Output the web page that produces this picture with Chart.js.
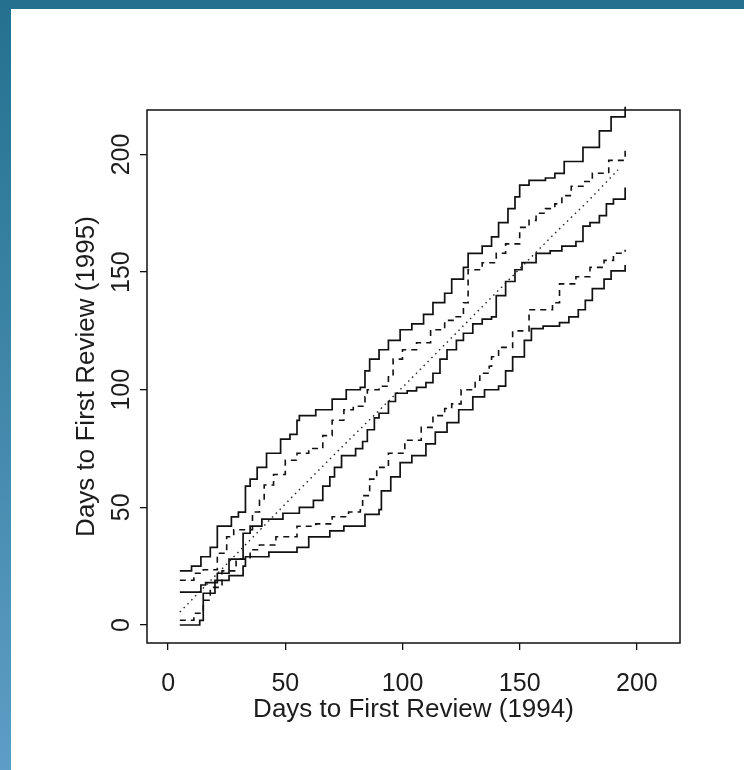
<!DOCTYPE html>
<html><head><meta charset="utf-8">
<script src="https://cdn.jsdelivr.net/npm/chart.js@4.4.1/dist/chart.umd.min.js"></script>
<style>
html,body{margin:0;padding:0;background:#fff;}
#wrap{position:relative;width:744px;height:770px;overflow:hidden;background:#fff;}
#topbar{position:absolute;left:0;top:0;width:744px;height:9px;background:#23718f;}
#leftbar{position:absolute;left:0;top:0;width:11px;height:770px;background:linear-gradient(#23718f,#5e9dc5);}
canvas{position:absolute;left:0;top:0;}
</style></head><body>
<div id="wrap"><div id="topbar"></div><div id="leftbar"></div><canvas id="c" width="744" height="770"></canvas></div>
<script>
// ---- data ----
const xTicks = [0, 50, 100, 150, 200];
const yTicks = [0, 50, 100, 150, 200];
const xTitle = 'Days to First Review (1994)';
const yTitle = 'Days to First Review (1995)';

// upper outer band (solid)
const upperOuterX = [5,10,14,18,21,27,30,33,35,38,42,48,52,55,56,63,70,76,82,84,86,90,94,99,104,109,113,118,121,126,128,134,138,141,145,148,150,154,161,165,169,177,184,189,195];
const upperOuterY = [23,25,29,33,42,46,48,59,62,67,73,79,81,87,89,91.5,96,100,101,108,113,117,121,125.5,128,132,137,141,147,152,158,161,165,171,177,182,187,189,190,192,197,203,210,216,220.3];
// upper inner band (dashed)
const upperInnerX = [5,11,15,21,25,28,36,39,41,45,50,55,60,66,70,75,79,84,85,90,94,96,100,106,112,118,122,126,128,134,140,144,150,154,157,161,165,168,172,177,181,188,195];
const upperInnerY = [19,22,23.5,30.5,37.5,40.5,48,53,59.5,64,70,73,75,80.5,87,91.5,93,97,100,101.5,105.5,113,117,120,125.5,129.5,131,137,151,154,158,162,169,172,175,177,179,182.5,186.5,188.5,192,197.5,203];
// reference line (dotted)
const refX = [5,53,74.5,100,165,179,192];
const refY = [5.5,54.5,76,101,166.5,180,193.5];
// quantile curve (solid)
const qqX = [5,14,16,21,26,32,35,40,49,56,62,66,69,71,74,80,83,85,88,90,94,97,102,106,110,113,116,119,123,126,130,134,138,140,144,148,151,157,163,168,174,177,180,184,187,190,195];
const qqY = [14,17,18,22,28,39,42,45,47.5,50,53,59,63,67,72,75,78,83,88,90,95,98.5,99.5,101,103,107,113,117,121,124,128,130,131,140,146,151,154,158,159,161,163,169.5,171,174,179,181,186];
// lower inner band (dashed)
const lowerInnerX = [5,11,15,18,23,29,35,39,46,55,63,70,77,82,83,86,89,94,101,108,113,118,121,125,131,133,137,138,141,147,154,164,167,174,180,186,190,195];
const lowerInnerY = [2,5,10.5,16,23,28,32,34,37.5,42,43,46,48,49,55,62,67,73,78.5,84,89,92,94,100,104,107,110,114,118,125,134,137,145,148,152,155,158,159.5];
// lower outer band (solid)
const lowerOuterX = [5,13.5,15,20,26,32,33,43,55,60,69,75,84,90,91,95,99,104,110,114,119,124,130,135,141,144,147,152,155,160,167,171,175,178,181,186,189,195];
const lowerOuterY = [0,2,13.5,19,21,25,29,31,33,37.5,40,42,47,49,57,63,69,72,77,82,86,91.5,97,100,101.5,108,114,121,126,127,128.5,131,134,138,143,147,150.5,153];

const pts = (xs, ys) => xs.map((x, i) => ({x: x, y: ys[i]}));
const FONT = "'Liberation Sans', Arial, Helvetica, sans-serif";
const INK = '#1c1c1c';

const solid = (xs, ys) => ({data: pts(xs, ys), borderColor: '#111', borderWidth: 1.7, stepped: 'before', pointRadius: 0, fill: false, clip: 5});
const dashed = (xs, ys) => ({data: pts(xs, ys), borderColor: '#111', borderWidth: 1.6, borderDash: [6, 5], stepped: 'before', pointRadius: 0, fill: false, clip: 5});

const framePlugin = {
  id: 'frame',
  afterDatasetsDraw(chart) {
    const {ctx, chartArea: a} = chart;
    ctx.save();
    ctx.strokeStyle = '#111';
    ctx.lineWidth = 1.5;
    ctx.strokeRect(a.left, a.top, a.right - a.left, a.bottom - a.top);
    ctx.restore();
  },
  afterDraw(chart) {
    const ctx = chart.ctx, ys = chart.scales.y;
    ctx.save();
    ctx.fillStyle = INK;
    ctx.font = '25px ' + FONT;
    ctx.textAlign = 'center';
    ctx.textBaseline = 'middle';
    yTicks.forEach(v => {
      const p = ys.getPixelForValue(v);
      ctx.save();
      ctx.translate(122, p);
      ctx.rotate(-Math.PI / 2);
      ctx.fillText(String(v), 0, 0);
      ctx.restore();
    });
    ctx.restore();
  }
};

new Chart(document.getElementById('c'), {
  type: 'line',
  data: {
    datasets: [
      solid(upperOuterX, upperOuterY),
      dashed(upperInnerX, upperInnerY),
      {data: pts(refX, refY), borderColor: '#222', borderWidth: 1.4, borderDash: [1.5, 4], pointRadius: 0, fill: false, tension: 0},
      solid(qqX, qqY),
      dashed(lowerInnerX, lowerInnerY),
      solid(lowerOuterX, lowerOuterY)
    ]
  },
  options: {
    responsive: false,
    animation: false,
    devicePixelRatio: 1,
    layout: {padding: {left: 0, top: 110, right: 64, bottom: 0}},
    plugins: {legend: {display: false}, tooltip: {enabled: false}},
    scales: {
      x: {
        type: 'linear', min: -9, max: 218.4,
        afterBuildTicks: s => { s.ticks = xTicks.map(v => ({value: v})); },
        afterFit: s => { s.height = 127; },
        grid: {drawOnChartArea: false, drawTicks: true, tickLength: 7, color: '#111', lineWidth: 1.3},
        border: {display: false},
        ticks: {font: {family: FONT, size: 25}, color: INK, padding: 19, maxRotation: 0, minRotation: 0},
        title: {display: true, text: xTitle, font: {family: FONT, size: 26}, color: INK, padding: {top: 0, bottom: 45}}
      },
      y: {
        type: 'linear', min: -7.65, max: 218.9,
        afterBuildTicks: s => { s.ticks = yTicks.map(v => ({value: v})); },
        afterFit: s => { s.width = 147; },
        grid: {drawOnChartArea: false, drawTicks: true, tickLength: 7, color: '#111', lineWidth: 1.3},
        border: {display: false},
        ticks: {display: false},
        title: {display: true, text: yTitle, font: {family: FONT, size: 26}, color: INK, padding: {top: 71, bottom: 0}}
      }
    }
  },
  plugins: [framePlugin]
});
</script>
</body></html>
